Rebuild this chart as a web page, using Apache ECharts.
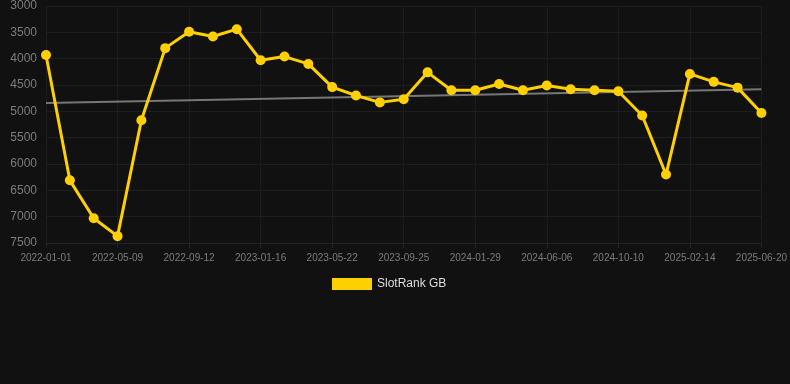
<!DOCTYPE html>
<html>
<head>
<meta charset="utf-8">
<script src="https://cdn.jsdelivr.net/npm/echarts@6/dist/echarts.min.js"></script>
<style>
  html, body { margin: 0; padding: 0; background: #111111; }
  #main { width: 790px; height: 384px; }
</style>
</head>
<body>
<div id="main"></div>
<script>
const dates = [
  '2022-01-01','2022-02-13','2022-03-27','2022-05-09','2022-06-20','2022-08-01',
  '2022-09-12','2022-10-24','2022-12-05','2023-01-16','2023-02-27','2023-04-10',
  '2023-05-22','2023-07-03','2023-08-14','2023-09-25','2023-11-06','2023-12-18',
  '2024-01-29','2024-03-12','2024-04-24','2024-06-06','2024-07-18','2024-08-29',
  '2024-10-10','2024-11-21','2025-01-02','2025-02-14','2025-03-28','2025-05-09',
  '2025-06-20'
];
const rank = [
  3930, 6310, 7030, 7370, 5170, 3800, 3490, 3580, 3440, 4030, 3960, 4100,
  4540, 4700, 4830, 4770, 4260, 4600, 4600, 4480, 4600, 4510, 4580, 4600,
  4620, 5080, 6200, 4290, 4440, 4550, 5030
];
const trendStart = 4840;
const trendEnd = 4580;

const trend = dates.map((d, i) => i === 0 ? trendStart : (i === dates.length - 1 ? trendEnd : null));

let myChart = echarts.init(document.getElementById('main'));

myChart.setOption({
  backgroundColor: '#111111',
  animation: false,
  grid: {
    left: 46,
    right: 28,
    top: 6,
    bottom: 141
  },
  legend: {
    bottom: 89,
    left: 327,
    itemWidth: 40,
    itemHeight: 12,
    itemGap: 10,
    icon: 'rect',
    data: ['SlotRank GB'],
    textStyle: { color: '#dddddd', fontSize: 12, fontFamily: 'Liberation Sans, Arial, sans-serif' }
  },
  xAxis: {
    type: 'category',
    data: dates,
    boundaryGap: false,
    axisLine: { lineStyle: { color: '#242424' } },
    axisTick: { show: true, interval: 2, lineStyle: { color: '#242424' } },
    axisLabel: {
      interval: 2,
      color: '#7c7c7c',
      fontSize: 10,
      margin: 10,
      fontFamily: 'Liberation Sans, Arial, sans-serif'
    },
    splitLine: { show: true, interval: 2, lineStyle: { color: '#1c1c1c' } }
  },
  yAxis: {
    type: 'value',
    inverse: true,
    min: 3000,
    max: 7500,
    interval: 500,
    axisLine: { show: false },
    axisTick: { show: false },
    axisLabel: {
      color: '#7c7c7c',
      fontSize: 12,
      margin: 9,
      formatter: v => String(v),
      fontFamily: 'Liberation Sans, Arial, sans-serif'
    },
    splitLine: { lineStyle: { color: '#1e1e1e' } }
  },
  series: [
    {
      name: 'SlotRank GB',
      type: 'line',
      data: rank,
      color: '#FFD000',
      symbol: 'circle',
      symbolSize: 10,
      lineStyle: { width: 3, color: '#FFD000' },
      itemStyle: { color: '#FFD000' },
      z: 3
    },
    {
      name: 'Trend',
      type: 'line',
      data: trend,
      connectNulls: true,
      symbol: 'none',
      lineStyle: { width: 2, color: '#777777' },
      z: 2
    }
  ]
});
</script>
</body>
</html>
